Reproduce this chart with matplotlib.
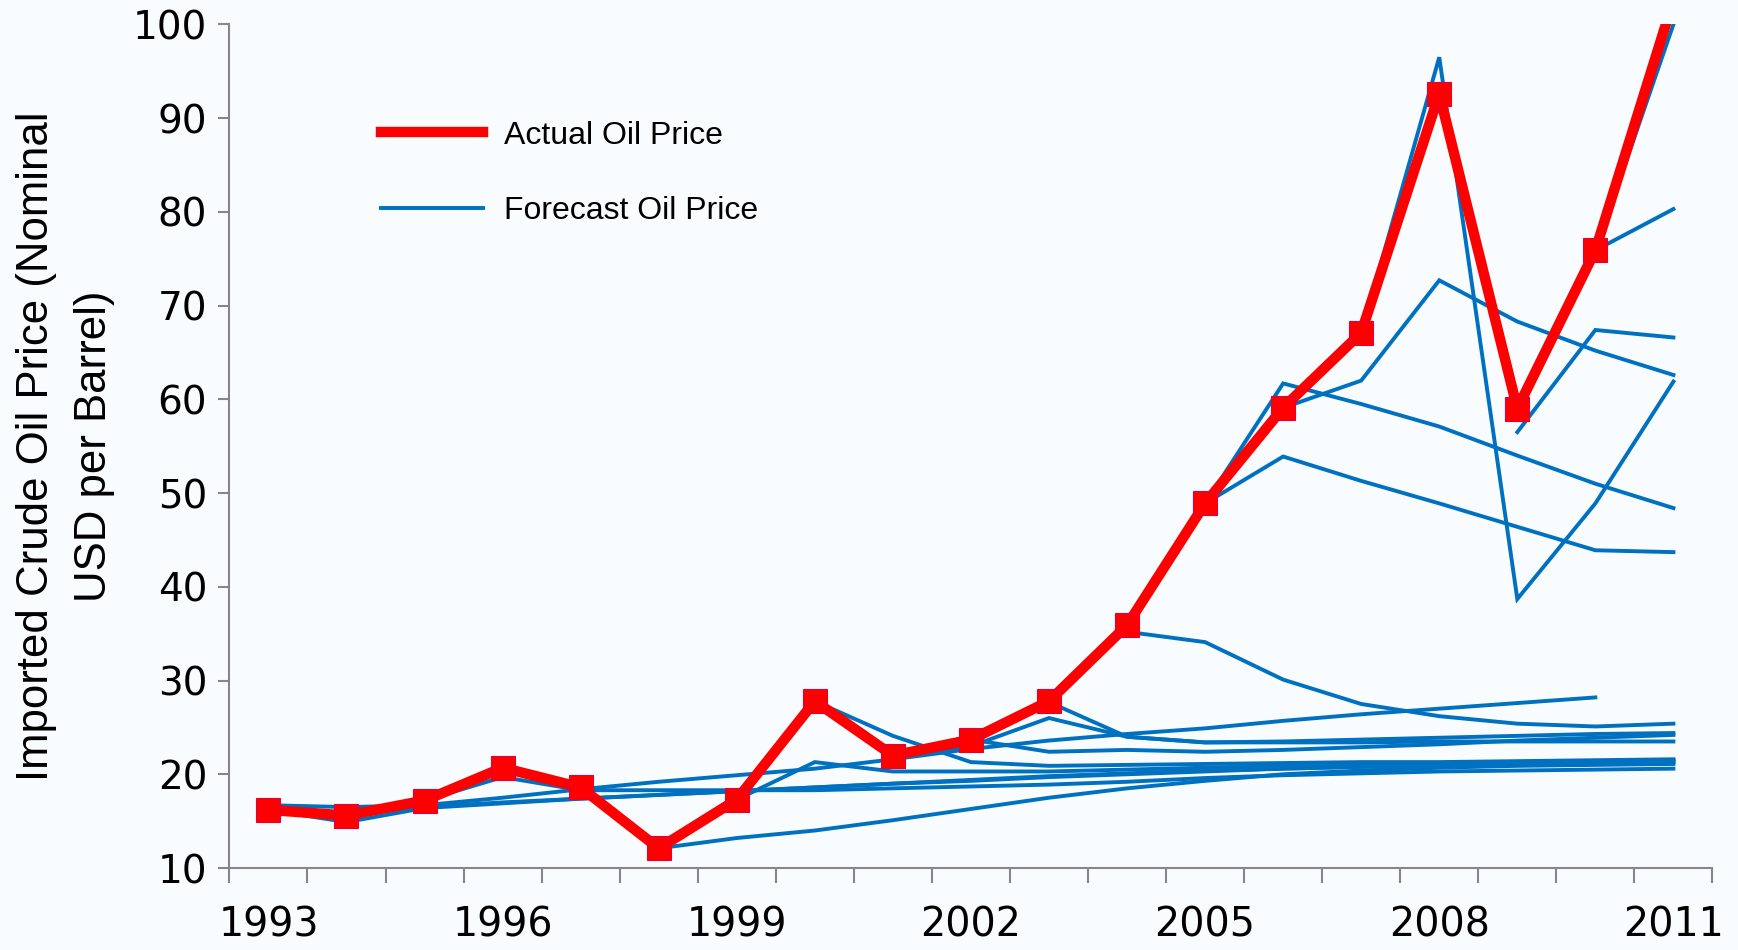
import matplotlib
matplotlib.use('Agg')
import matplotlib.pyplot as plt
from matplotlib.lines import Line2D
import numpy as np

nan = np.nan
years = list(range(1993, 2012))
tick_years = ['1993', '1996', '1999', '2002', '2005', '2008', '2011']

actual = [16.2, 15.6, 17.2, 20.7, 18.6, 12.1, 17.3, 27.8, 22.0, 23.7,
          27.8, 35.9, 48.9, 59.1, 67.1, 92.6, 59.0, 75.9, 102.6]

# forecast paths, one list per outlook (nan = not covered)
fc_1993a = [16.7, 16.5, 16.7, 17.5, 18.4, 19.2, 19.9, 20.6, 21.6, 22.7,
            23.6, 24.3, 24.9, 25.7, 26.4, 27.0, 27.6, 28.2, nan]
fc_1993b = [16.2, 14.9, 16.4, 16.9, 17.4, 17.8, 18.2, 18.6, 19.0, 19.3,
            19.7, 20.0, 20.3, 20.6, 20.8, 21.0, 21.1, 21.3, 21.4]
fc_1994 = [nan, 15.6, 16.5, 17.0, 17.4, 17.8, 18.2, 18.6, 19.0, 19.4,
           19.8, 20.1, 20.4, 20.6, 20.8, 21.0, 21.1, 21.2, 21.3]
fc_1995 = [nan, nan, 17.2, 19.7, 18.3, 18.3, 18.3, 18.3, 18.5, 18.7,
           18.9, 19.2, 19.6, 19.9, 20.1, 20.3, 20.4, 20.5, 20.6]
fc_1998 = [nan, nan, nan, nan, nan, 12.1, 13.2, 14.0, 15.1, 16.3,
           17.5, 18.5, 19.3, 20.0, 20.4, 20.7, 20.9, 21.0, 21.1]
fc_1999 = [nan, nan, nan, nan, nan, nan, 17.3, 21.3, 20.3, 20.3,
           20.3, 20.5, 20.7, 20.9, 21.1, 21.2, 21.3, 21.4, 21.5]
fc_2000 = [nan, nan, nan, nan, nan, nan, nan, 27.8, 24.1, 21.3,
           20.9, 21.0, 21.1, 21.2, 21.3, 21.3, 21.4, 21.5, 21.6]
fc_2001 = [nan, nan, nan, nan, nan, nan, nan, nan, 22.0, 23.0,
           26.0, 24.0, 23.4, 23.4, 23.4, 23.5, 23.5, 23.5, 23.5]
fc_2002 = [nan, nan, nan, nan, nan, nan, nan, nan, nan, 23.7,
           22.4, 22.6, 22.4, 22.6, 22.9, 23.2, 23.6, 23.9, 24.2]
fc_2003 = [nan, nan, nan, nan, nan, nan, nan, nan, nan, nan,
           27.7, 24.0, 23.4, 23.5, 23.7, 23.9, 24.1, 24.3, 24.4]
fc_2004 = [nan, nan, nan, nan, nan, nan, nan, nan, nan, nan,
           nan, 35.2, 34.1, 30.1, 27.5, 26.2, 25.4, 25.1, 25.4]
fc_2005a = [nan, nan, nan, nan, nan, nan, nan, nan, nan, nan,
            nan, nan, 48.9, 61.7, 59.5, 57.1, 54.0, 51.0, 48.4]
fc_2005b = [nan, nan, nan, nan, nan, nan, nan, nan, nan, nan,
            nan, nan, 48.9, 53.9, 51.3, 48.9, 46.4, 43.9, 43.7]
fc_2006 = [nan, nan, nan, nan, nan, nan, nan, nan, nan, nan,
           nan, nan, nan, 59.1, 62.0, 72.7, 68.3, 65.2, 62.6]
fc_2007 = [nan, nan, nan, nan, nan, nan, nan, nan, nan, nan,
           nan, nan, nan, nan, 67.1, 96.5, 38.7, 48.9, 61.9]
fc_2009 = [nan, nan, nan, nan, nan, nan, nan, nan, nan, nan,
           nan, nan, nan, nan, nan, nan, 56.5, 67.4, 66.6]
fc_2010a = [nan, nan, nan, nan, nan, nan, nan, nan, nan, nan,
            nan, nan, nan, nan, nan, nan, nan, 75.9, 80.3]
fc_2010b = [nan, nan, nan, nan, nan, nan, nan, nan, nan, nan,
            nan, nan, nan, nan, nan, nan, nan, 75.9, 100.0]

forecasts = [fc_1993a, fc_1993b, fc_1994, fc_1995, fc_1998, fc_1999, fc_2000,
             fc_2001, fc_2002, fc_2003, fc_2004, fc_2005a, fc_2005b, fc_2006,
             fc_2007, fc_2009, fc_2010a, fc_2010b]

blue = '#0070c0'
red = '#ff0000'
grey = '#868686'
bg = '#f9fcfe'

fig = plt.figure(figsize=(17.38, 9.5), dpi=100, facecolor=bg)
ax = fig.add_axes([0.1320, 0.0863, 0.8533, 0.8880])
ax.set_facecolor(bg)

x = np.arange(len(years))
for f in forecasts:
    ax.plot(x, f, color=blue, lw=2.8, solid_joinstyle='miter', zorder=2)
ax.plot(x, actual, color=red, lw=7.5, marker='s', markersize=17,
        markerfacecolor=red, markeredgecolor='#e0003c', markeredgewidth=0.8,
        zorder=3)

ax.set_xlim(-0.5, len(years) - 0.5)
ax.set_ylim(10, 100)
ax.set_yticks(range(10, 101, 10))
ax.set_xticks([years.index(int(t)) for t in tick_years])
ax.set_xticklabels(tick_years)
ax.set_xticks(np.arange(-0.5, len(years)), minor=True)

for s in ['top', 'right']:
    ax.spines[s].set_visible(False)
for s in ['left', 'bottom']:
    ax.spines[s].set_color(grey)
    ax.spines[s].set_linewidth(1.5)

ax.tick_params(axis='x', which='major', length=0, pad=27, labelsize=28.5)
ax.tick_params(axis='x', which='minor', length=10.5, width=1.5, color=grey,
               direction='out')
ax.tick_params(axis='y', length=8, width=1.5, color=grey, pad=8, labelsize=28)
for lab in ax.get_xticklabels() + ax.get_yticklabels():
    lab.set_fontfamily('DejaVu Sans')

ax.set_ylabel('Imported Crude Oil Price (Nominal\nUSD per Barrel)',
              fontsize=31.5, family='Liberation Sans', linespacing=1.55)
ax.yaxis.set_label_coords(-0.077, 0.5)

handles = [Line2D([], [], color=red, lw=7.5),
           Line2D([], [], color=blue, lw=2.8)]
leg = ax.legend(handles, ['Actual Oil Price', 'Forecast Oil Price'],
                loc='upper left', bbox_to_anchor=(0.083, 0.92),
                frameon=False, handlelength=3.2, handletextpad=0.65,
                labelspacing=1.42, prop={'family': 'Liberation Sans', 'size': 23})

fig.savefig('out.png', dpi=100, facecolor=bg)
